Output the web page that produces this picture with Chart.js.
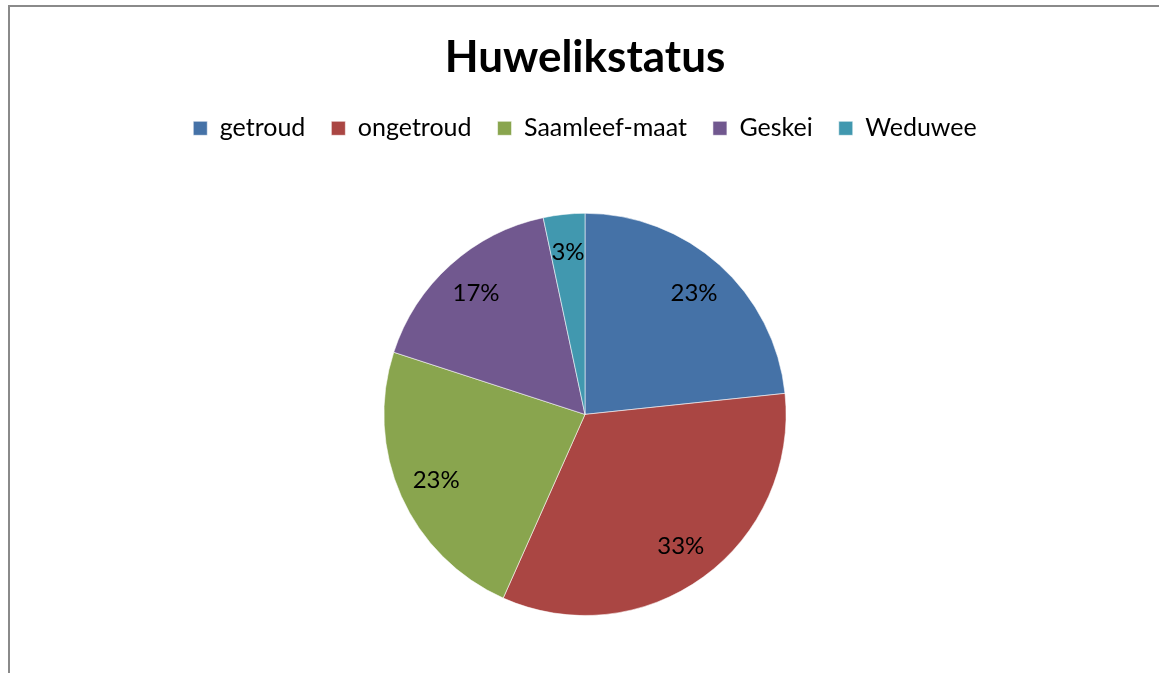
<!DOCTYPE html>
<html><head><meta charset="utf-8">
<script src="https://cdn.jsdelivr.net/npm/chart.js@4"></script>
<style>
html,body{margin:0;padding:0;background:#fff;}
#wrap{position:relative;width:1159px;height:673px;overflow:hidden;}
#frame{position:absolute;left:8px;top:5px;width:1200px;height:700px;border-left:2px solid #8a8a8a;border-top:2px solid #8a8a8a;box-sizing:border-box;}
canvas{position:absolute;left:0;top:0;}
</style></head>
<body><div id="wrap"><div id="frame"></div><canvas id="c" width="1159" height="673"></canvas></div>
<script>
const titleText = "Huwelikstatus";
const categories = ["getroud", "ongetroud", "Saamleef-maat", "Geskei", "Weduwee"];
const values = [7, 10, 7, 5, 1];
const colors = ["#4572A7", "#AA4643", "#89A54E", "#71588F", "#4198AF"];
const FONT = "Lato, 'Open Sans', sans-serif";

const labelPlugin = {
  id: 'pctLabels',
  afterDatasetsDraw(chart) {
    const ctx = chart.ctx;
    const meta = chart.getDatasetMeta(0);
    const data = chart.data.datasets[0].data;
    const total = data.reduce((a, b) => a + b, 0);
    ctx.save();
    ctx.font = "24px " + FONT;
    ctx.fillStyle = "#000";
    ctx.textAlign = "center";
    ctx.textBaseline = "middle";
    meta.data.forEach((arc, i) => {
      const p = arc.getProps(['x', 'y', 'startAngle', 'endAngle', 'outerRadius'], true);
      const mid = (p.startAngle + p.endAngle) / 2;
      const r = p.outerRadius * 0.81;
      const txt = Math.round(data[i] / total * 100) + "%";
      ctx.fillText(txt, p.x + Math.cos(mid) * r, p.y + Math.sin(mid) * r);
    });
    ctx.restore();
  }
};

const legendSpace = {
  id: 'legendSpace',
  beforeInit(chart) {
    const lg = chart.legend;
    const origFit = lg.fit;
    lg.fit = function () { origFit.call(this); this.height += 62; };
  }
};

new Chart(document.getElementById('c'), {
  type: 'pie',
  data: {
    labels: categories,
    datasets: [{
      data: values,
      backgroundColor: colors,
      borderColor: 'rgba(255,255,255,0.55)',
      borderWidth: 1
    }]
  },
  options: {
    responsive: false,
    animation: false,
    layout: { padding: { left: 11, right: 0, top: 0, bottom: 57 } },
    plugins: {
      title: {
        display: true,
        text: titleText,
        color: '#000',
        font: { family: FONT, size: 44, weight: 'bold' },
        padding: { top: 31, bottom: 6 }
      },
      legend: {
        position: 'top',
        labels: {
          color: '#000',
          font: { family: FONT, size: 25 },
          boxWidth: 14,
          boxHeight: 14,
          padding: 26
        }
      },
      tooltip: { enabled: false }
    }
  },
  plugins: [legendSpace, labelPlugin]
});
</script></body></html>
